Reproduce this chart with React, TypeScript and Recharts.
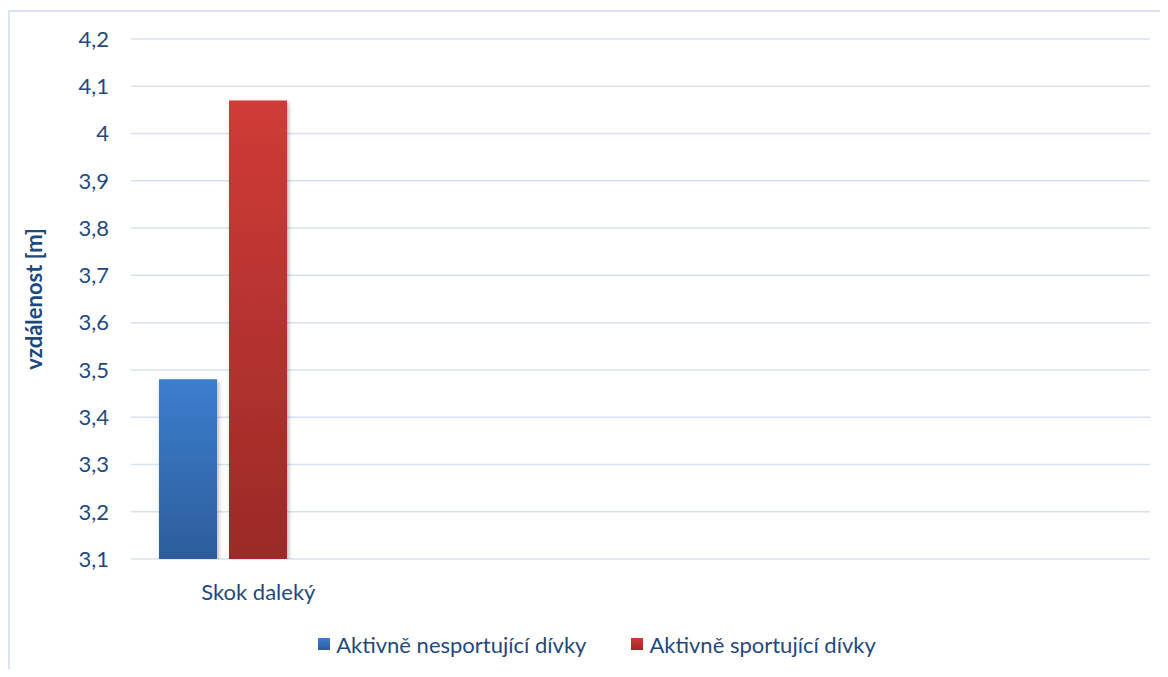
import { BarChart, Bar, XAxis, YAxis, CartesianGrid, Legend, Label } from 'recharts'

// Skok daleký – porovnání skupin dívek
const CATEGORIES = ['Skok daleký', '', '', '']
const NESPORTUJICI = [3.48, null, null, null]
const SPORTUJICI = [4.07, null, null, null]
const PRAZDNA = [null, null, null, null]
const Y_TICKS = [3.1, 3.2, 3.3, 3.4, 3.5, 3.6, 3.7, 3.8, 3.9, 4, 4.1, 4.2]
const SERIES_NAMES = ['Aktivně nesportující dívky', 'Aktivně sportující dívky']
const Y_LABEL = 'vzdálenost [m]'

const data = CATEGORIES.map((name, i) => ({
  name,
  nesportujici: NESPORTUJICI[i],
  sportujici: SPORTUJICI[i],
  prazdna: PRAZDNA[i],
}))

const TEXT = '#1f497d'
const FONT = 'Lato, "Open Sans", sans-serif'
const FS = 22

function YTitle(props: any) {
  const vb = props.viewBox || { x: 0, y: 0, height: 0 }
  const x = vb.x + 23
  const y = vb.y + vb.height / 2
  return (
    <text
      x={x}
      y={y}
      transform={`rotate(-90, ${x}, ${y})`}
      textAnchor="middle"
      dominantBaseline="central"
      fill={TEXT}
      fontSize={FS}
      fontWeight="bold"
      fontFamily={FONT}
    >
      {Y_LABEL}
    </text>
  )
}

function LegendBox() {
  const swatches = [
    'linear-gradient(#3b7dcf, #2d5d9b)',
    'linear-gradient(#cf3b37, #9b2a28)',
  ]
  return (
    <div
      style={{
        display: 'flex',
        justifyContent: 'center',
        alignItems: 'center',
        height: 30,
        paddingLeft: 16,
        fontFamily: FONT,
        fontSize: FS,
        color: TEXT,
      }}
    >
      {SERIES_NAMES.map((n, i) => (
        <div key={n} style={{ display: 'flex', alignItems: 'center', marginRight: i === 0 ? 45 : 0 }}>
          <span style={{ width: 12, height: 12, background: swatches[i], marginRight: 6, display: 'inline-block' }} />
          <span>{n}</span>
        </div>
      ))}
    </div>
  )
}

export default function App() {
  return (
    <div style={{ paddingTop: 2 }}>
      <div
        style={{
          width: 1160,
          height: 659,
          borderLeft: '2px solid #dae3f0',
          borderTop: '2px solid #dae3f0',
          boxSizing: 'border-box',
          background: '#fff',
        }}
      >
        <BarChart
          width={1158}
          height={657}
          data={data}
          margin={{ top: 27, right: 18, left: 0, bottom: 0 }}
          barSize={58}
          barGap={12}
        >
          <defs>
            <linearGradient id="gBlue" x1="0" y1="0" x2="0" y2="1">
              <stop offset="0%" stopColor="#3c7ecf" />
              <stop offset="100%" stopColor="#2d5d9b" />
            </linearGradient>
            <linearGradient id="gRed" x1="0" y1="0" x2="0" y2="1">
              <stop offset="0%" stopColor="#d03b37" />
              <stop offset="100%" stopColor="#9b2a28" />
            </linearGradient>
            <filter id="shadow" x="-20%" y="-5%" width="150%" height="115%">
              <feDropShadow dx="1.5" dy="2" stdDeviation="2" floodColor="#000" floodOpacity="0.3" />
            </filter>
          </defs>
          <CartesianGrid vertical={false} stroke="#d6e2f2" strokeWidth={1.5} />
          <XAxis
            dataKey="name"
            axisLine={false}
            tickLine={false}
            tickSize={0}
            tickMargin={25}
            height={80}
            tick={{ fill: TEXT, fontSize: FS, fontFamily: FONT }}
          />
          <YAxis
            width={121}
            domain={[3.1, 4.2]}
            ticks={Y_TICKS}
            interval={0}
            allowDataOverflow
            axisLine={false}
            tickLine={false}
            tickSize={0}
            tickMargin={22}
            tick={{ fill: TEXT, fontSize: FS, fontFamily: FONT }}
            tickFormatter={(v: number) => String(v).replace('.', ',')}
          >
            <Label content={<YTitle />} />
          </YAxis>
          <Legend
            verticalAlign="bottom"
            content={<LegendBox />}
            wrapperStyle={{ top: 617, left: 0, width: 1158, height: 30 }}
          />
          <Bar dataKey="nesportujici" name={SERIES_NAMES[0]} fill="url(#gBlue)" filter="url(#shadow)" isAnimationActive={false} />
          <Bar dataKey="sportujici" name={SERIES_NAMES[1]} fill="url(#gRed)" filter="url(#shadow)" isAnimationActive={false} />
          <Bar dataKey="prazdna" fill="transparent" legendType="none" isAnimationActive={false} />
        </BarChart>
      </div>
    </div>
  )
}
